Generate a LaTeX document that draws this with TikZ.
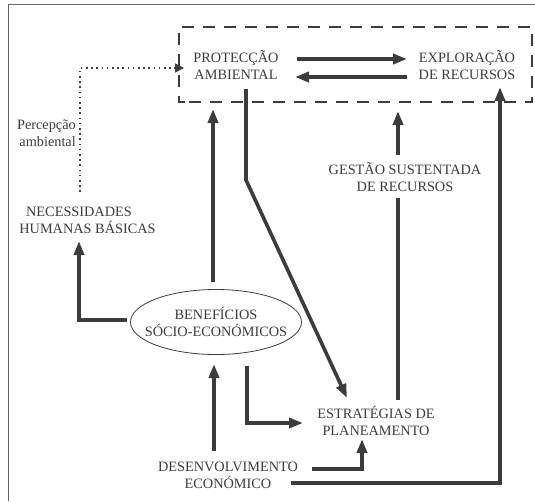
\documentclass[tikz,border=0pt]{standalone}
\usepackage{fontspec}
\setmainfont{Liberation Serif}
\usetikzlibrary{arrows.meta,shapes.geometric}
\definecolor{ink}{HTML}{3C3C3C}
\definecolor{rule}{HTML}{666666}
\begin{document}
\begin{tikzpicture}[x=1pt,y=-1pt,
  lbl/.style={align=center,text=ink,font=\fontsize{14.3}{17}\selectfont,inner sep=0pt},
  link/.style={draw=ink,line width=3.6pt},
  flow/.style={link,-{Triangle[length=14pt,width=10pt]}},
  perception/.style={draw=ink,line width=1.6pt,dash pattern=on 1.6pt off 3.6pt,
    -{Triangle[length=9pt,width=9pt,sep=0pt]}},
  groupbox/.style={draw=ink,line width=2.6pt,dash pattern=on 12pt off 9pt},
]
\useasboundingbox (0,0) rectangle (535,501);

% open frame (left and top edges)
\draw[rule,line width=1pt] (8,501) -- (8,4) -- (535,4);

% concepts
\node[lbl] (prot) at (236,65) {PROTECÇÃO\\AMBIENTAL};
\node[lbl] (expl) at (467,65) {EXPLORAÇÃO\\DE RECURSOS};
\node[lbl] (gest) at (405,177) {GESTÃO SUSTENTADA\\DE RECURSOS};
\node[lbl] (nec)  at (87.5,220) {NECESSIDADES\hspace*{17pt}\\HUMANAS BÁSICAS};
\node[lbl,align=right,anchor=east] (perc) at (76,133) {Percepção\\ambiental};
\node[lbl,ellipse,draw=ink,line width=0.8pt,inner xsep=-12pt,inner ysep=0pt,
  minimum width=171pt,minimum height=65pt]
  (ben) at (216,322) {BENEFÍCIOS\\SÓCIO-ECONÓMICOS};
\node[lbl] (est)  at (376,421) {ESTRATÉGIAS DE\\PLANEAMENTO};
\node[lbl] (des)  at (228,475) {DESENVOLVIMENTO\\ECONÓMICO};

% dashed group around protection / exploitation
\draw[groupbox] (185,102) -- (179,102) -- (179,27) -- (532,27) -- (532,102) -- cycle;

% connector ends and bends
\coordinate (percFoot) at (80,192);
\coordinate (percBend) at (80,68);
\coordinate (protIn)   at (184,68);
\coordinate (pe1) at (297,59);  \coordinate (pe2) at (407,59);
\coordinate (ep1) at (407,77);  \coordinate (ep2) at (295,77);
\coordinate (benTop) at (213,282); \coordinate (protFoot) at (213,109);
\coordinate (protOut) at (246,89); \coordinate (protBend) at (246,180);
\coordinate (estTip) at (347,398);
\coordinate (gestTop) at (398,155); \coordinate (gestTip) at (398,111);
\coordinate (gestFoot) at (398,198); \coordinate (estTop) at (398,400);
\coordinate (necBend) at (79,320); \coordinate (necFoot) at (79,241);
\coordinate (benFoot) at (247,366); \coordinate (benBend) at (247,423);
\coordinate (estWest) at (303,423);
\coordinate (desTop) at (214,451); \coordinate (benIn) at (214,364);
\coordinate (desEast) at (312,469); \coordinate (desBend) at (362,469);
\coordinate (estFoot) at (362,439);
\coordinate (desLow) at (291,483); \coordinate (farBend) at (500,483);
\coordinate (explFoot) at (500,87);

% connectors
\draw[perception] (percFoot) -- (percBend) -- (protIn);
\draw[flow] (pe1) -- (pe2);
\draw[flow] (ep1) -- (ep2);
\draw[flow] (benTop) -- (protFoot);
\draw[flow] (protOut) -- (protBend) -- (estTip);
\draw[flow] (gestTop) -- (gestTip);
\draw[link] (estTop) -- (gestFoot);
\draw[flow] ([xshift=-3pt]ben.west |- necBend) -- (necBend) -- (necFoot);
\draw[flow] (benFoot) -- (benBend) -- (estWest);
\draw[flow] (desTop) -- (benIn);
\draw[flow] (desEast) -- (desBend) -- (estFoot);
\draw[flow] (desLow) -- (farBend) -- (explFoot);
\end{tikzpicture}
\end{document}
